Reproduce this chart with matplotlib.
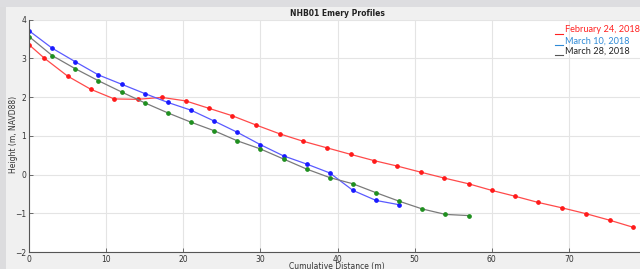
import matplotlib
matplotlib.use("Agg")
import matplotlib.pyplot as plt
from matplotlib.patches import Rectangle

# Data (Cumulative distance in m, height in m NAVD88)
feb24_x = [0, 2.0, 5.0, 8.0, 11.05, 14.1, 17.2, 20.3, 23.3, 26.3, 29.4, 32.5, 35.5,
           38.6, 41.7, 44.7, 47.7, 50.8, 53.8, 57.0, 60.0, 63.0, 66.0, 69.1, 72.2, 75.3, 78.3]
feb24_y = [3.35, 3.00, 2.54, 2.20, 1.95, 1.94, 1.99, 1.90, 1.71, 1.52, 1.28, 1.05, 0.86,
           0.69, 0.52, 0.36, 0.22, 0.06, -0.09, -0.24, -0.41, -0.56, -0.72, -0.86, -1.01, -1.18, -1.36]

mar10_x = [0, 3, 6, 9, 12, 15, 18, 21, 24, 27, 30, 33, 36, 39, 42, 45, 48]
mar10_y = [3.71, 3.26, 2.91, 2.57, 2.33, 2.09, 1.86, 1.66, 1.38, 1.09, 0.77, 0.48, 0.27,
           0.04, -0.41, -0.67, -0.78]

mar28_x = [0, 3, 6, 9, 12, 15, 18, 21, 24, 27, 30, 33, 36, 39, 42, 45, 48, 51, 54, 57]
mar28_y = [3.56, 3.07, 2.73, 2.42, 2.13, 1.85, 1.59, 1.35, 1.13, 0.87, 0.66, 0.40, 0.14,
           -0.08, -0.24, -0.47, -0.69, -0.89, -1.03, -1.06]

x_ticks = [0, 10, 20, 30, 40, 50, 60, 70]
y_ticks = [-2, -1, 0, 1, 2, 3, 4]
legend_labels = ["February 24, 2018", "March 10, 2018", "March 28, 2018"]

W, H = 640, 269
fig = plt.figure(figsize=(W / 100, H / 100), dpi=100, facecolor="#f0f0f0")

# window chrome bands
fig.patches.append(Rectangle((0, 1 - 7 / H), 1, 7 / H, transform=fig.transFigure,
                             facecolor="#dddde0", edgecolor="none", zorder=0))
fig.patches.append(Rectangle((0, 0), 6 / W, 1 - 7 / H, transform=fig.transFigure,
                             facecolor="#dcdcde", edgecolor="none", zorder=0))

ax = fig.add_axes([29 / W, (H - 252) / H, (646 - 29) / W, (252 - 19.5) / H])
ax.set_facecolor("white")
ax.set_xlim(0, 80)
ax.set_ylim(-2, 4)
ax.set_xticks(x_ticks)
ax.set_yticks(y_ticks)
ax.grid(True, color="#e4e4e4", linewidth=0.8)
ax.set_axisbelow(True)
for s in ["top", "right"]:
    ax.spines[s].set_visible(False)
for s in ["left", "bottom"]:
    ax.spines[s].set_color("#555555")
    ax.spines[s].set_linewidth(0.8)
ax.tick_params(direction="in", length=3, width=0.6, color="#555555",
               labelsize=5.5, labelcolor="#333333", pad=2)

ax.plot(feb24_x, feb24_y, color="#ff4a4a", lw=0.9, marker="o", ms=2.4,
        mfc="#ff1a1a", mec="#ff1a1a")
ax.plot(mar10_x, mar10_y, color="#5a5aff", lw=0.9, marker="o", ms=2.4,
        mfc="#1a1aff", mec="#1a1aff")
ax.plot(mar28_x, mar28_y, color="#7a7a7a", lw=0.9, marker="o", ms=2.4,
        mfc="#1f8f1f", mec="#1f8f1f")

fig.text(337 / W, 1 - 14 / H, "NHB01 Emery Profiles", ha="center", va="center",
         fontsize=5.5, fontweight="bold", color="#222222")
fig.text(14 / W, 1 - 134 / H, "Height (m, NAVD88)", ha="center", va="center",
         rotation=90, fontsize=5.5, color="#333333")
fig.text(337 / W, 1 - 267 / H, "Cumulative Distance (m)", ha="center", va="center",
         fontsize=5.5, color="#333333")

# legend-like text overlay
leg_colors = ["#ff2020", "#2f8ad6", "#222222"]
dash_colors = ["#ff2020", "#2f8ad6", "#555555"]
leg_y = [30, 41, 51]
for lab, c, dc, yy in zip(legend_labels, leg_colors, dash_colors, leg_y):
    fig.text(565 / W, 1 - yy / H, lab, ha="left", va="center", fontsize=6.6,
             color=c, family="Lato")
    fig.lines.append(plt.Line2D([555 / W, 563 / W], [1 - (yy + 4) / H] * 2,
                                transform=fig.transFigure, color=dc, lw=0.8))

fig.savefig("out.png", dpi=100, facecolor=fig.get_facecolor())
